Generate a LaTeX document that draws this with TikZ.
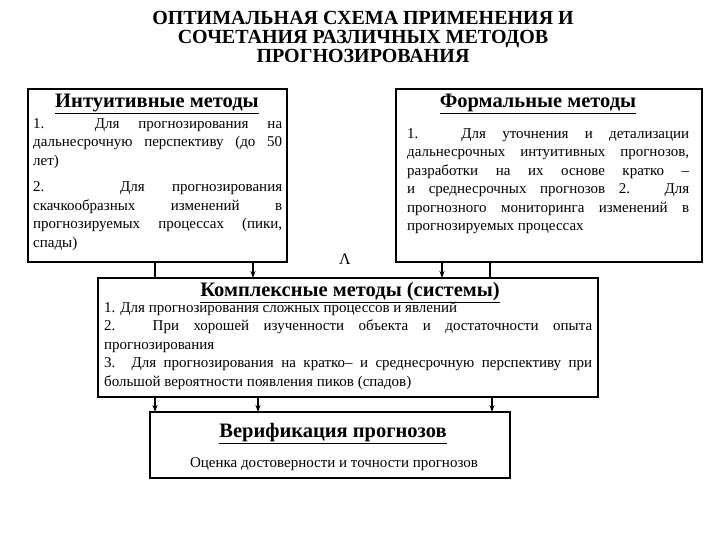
\documentclass[tikz,border=0pt]{standalone}
\usepackage{fontspec}
\usetikzlibrary{arrows.meta}
\setmainfont{Liberation Serif}
\begin{document}
\begin{tikzpicture}[x=1pt,y=-1pt,
  box/.style={draw,line width=1.2pt,inner sep=0pt},
  body/.style={align=justify,font=\fontsize{15}{18.5}\selectfont,inner sep=0pt,anchor=north west},
  head/.style={font=\bfseries\fontsize{20.5}{22}\selectfont,inner sep=0pt},
  arr/.style={-{Stealth[length=7pt,width=5pt]},line width=1.2pt},
  ln/.style={line width=1.2pt}]
\useasboundingbox (0,0) rectangle (720,540);
\node[font=\bfseries\fontsize{20}{19}\selectfont,align=center,inner sep=0pt] (title) at (363,37)
 {ОПТИМАЛЬНАЯ СХЕМА ПРИМЕНЕНИЯ И\\СОЧЕТАНИЯ РАЗЛИЧНЫХ МЕТОДОВ\\ПРОГНОЗИРОВАНИЯ};
\draw[box] (28,89) rectangle (287,262);
\node[head] (lh) at (157,104) {\underline{Интуитивные методы}};
\node[body,text width=249pt] (lt) at (33,118) {1. Для прогнозирования на дальнесрочную перспективу (до 50 лет)\\[8pt]2. Для прогнозирования скачкообразных изменений в прогнозируемых процессах (пики, спады)};
\draw[box] (396,89) rectangle (702,262);
\node[head] (rh) at (538,104) {\underline{Формальные методы}};
\node[body,text width=282pt] (rt) at (407,128) {1. Для уточнения и детализации дальнесрочных интуитивных прогнозов, разработки на их основе кратко – и среднесрочных прогнозов 2. Для прогнозного мониторинга изменений в прогнозируемых процессах};
\node[font=\fontsize{16}{16}\selectfont,inner sep=0pt] (lam) at (345,259) {Λ};
\draw[box] (98,278) rectangle (598,397);
\node[head] (mh) at (350,293) {\underline{Комплексные методы (системы)}};
\node[body,text width=488pt] (mt) at (104,302) {1. Для прогнозирования сложных процессов и явлений\\2. При хорошей изученности объекта и достаточности опыта прогнозирования\\3. Для прогнозирования на кратко– и среднесрочную перспективу при большой вероятности появления пиков (спадов)};
\draw[box] (150,412) rectangle (510,478);
\node[head] (bh) at (333,434) {\underline{Верификация прогнозов}};
\node[font=\fontsize{15}{16}\selectfont,inner sep=0pt] (bt) at (334,464) {Оценка достоверности и точности прогнозов};
\coordinate (a1) at (155,262); \coordinate (a1e) at (155,278);
\coordinate (a2) at (253,262); \coordinate (a2e) at (253,278);
\coordinate (a3) at (442,262); \coordinate (a3e) at (442,278);
\coordinate (a4) at (490,262); \coordinate (a4e) at (490,278);
\draw[ln] (a1) -- (a1e);
\draw[arr] (a2) -- (a2e);
\draw[arr] (a3) -- (a3e);
\draw[ln] (a4) -- (a4e);
\coordinate (b1) at (155,397); \coordinate (b1e) at (155,412);
\coordinate (b2) at (258,397); \coordinate (b2e) at (258,412);
\coordinate (b3) at (492,397); \coordinate (b3e) at (492,412);
\draw[arr] (b1) -- (b1e);
\draw[arr] (b2) -- (b2e);
\draw[arr] (b3) -- (b3e);
\end{tikzpicture}
\end{document}
